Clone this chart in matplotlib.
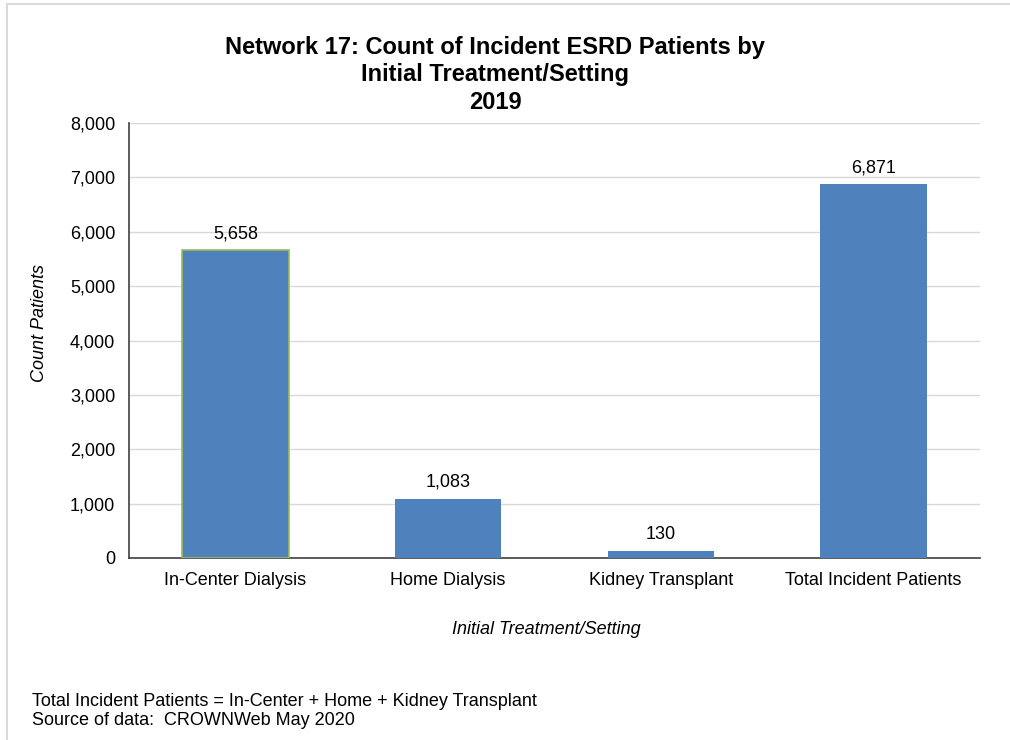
import matplotlib.pyplot as plt
from matplotlib.patches import Rectangle
from matplotlib.ticker import FuncFormatter

categories = ["In-Center Dialysis", "Home Dialysis", "Kidney Transplant", "Total Incident Patients"]
counts = [5658, 1083, 130, 6871]
yticks = [0, 1000, 2000, 3000, 4000, 5000, 6000, 7000, 8000]

plt.rcParams["font.family"] = ["Liberation Sans", "DejaVu Sans"]

W, H = 1010, 740
fig = plt.figure(figsize=(W / 100, H / 100), dpi=100)

# light frame round the chart area (right and bottom run off the image)
fig.patches.append(Rectangle((7 / W, -0.1), 1.2, 1 - 4 / H + 0.1, transform=fig.transFigure,
                             fill=False, edgecolor="#d9d9d9", linewidth=1.5))

ax = fig.add_axes([129 / W, 1 - 558 / H, (980 - 129) / W, (558 - 123) / H])

x = range(len(categories))
bars = ax.bar(x, counts, width=0.5, color="#4f81bd", zorder=3)
bars[0].set_edgecolor("#9bbb59")
bars[0].set_linewidth(1.2)

for i, v in enumerate(counts):
    ax.text(i, v + 150, f"{v:,}", ha="center", va="bottom", fontsize=13)

ax.set_xlim(-0.5, len(categories) - 0.5)
ax.set_ylim(0, 8000)
ax.set_yticks(yticks)
ax.yaxis.set_major_formatter(FuncFormatter(lambda v, p: f"{int(v):,}"))
ax.set_xticks(list(x))
ax.set_xticklabels(categories)
ax.tick_params(axis="both", length=0, labelsize=13, pad=10)
ax.grid(axis="y", color="#d9d9d9", linewidth=1, zorder=0)

for side in ["top", "right"]:
    ax.spines[side].set_visible(False)
for side in ["left", "bottom"]:
    ax.spines[side].set_color("#404040")
    ax.spines[side].set_linewidth(1.2)

fig.text(546 / W, 1 - 630 / H, "Initial Treatment/Setting", fontsize=13, style="italic",
         ha="center", va="center")
fig.text(40 / W, 1 - 323 / H, "Count Patients", fontsize=13, style="italic",
         ha="center", va="center", rotation=90)

fig.text(495 / W, 1 - 75 / H, "Network 17: Count of Incident ESRD Patients by\nInitial Treatment/Setting\n2019",
         ha="center", va="center", fontsize=17, fontweight="bold", linespacing=1.25)
fig.text(32 / W, 1 - 711 / H, "Total Incident Patients = In-Center + Home + Kidney Transplant\nSource of data:  CROWNWeb May 2020",
         ha="left", va="center", fontsize=13, linespacing=1.12)

fig.savefig("out.png", dpi=100)
